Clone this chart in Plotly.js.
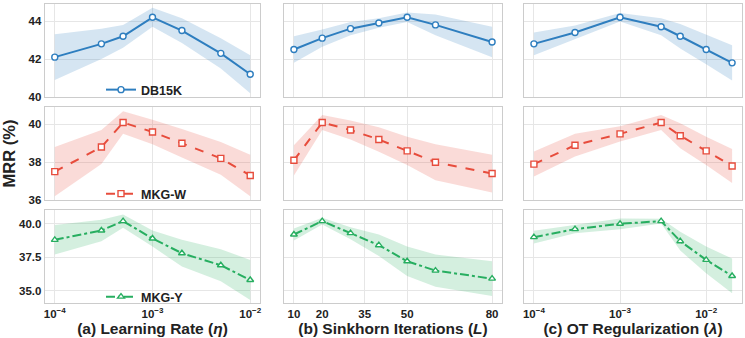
<!DOCTYPE html>
<html>
<head>
<meta charset="utf-8">
<script src="https://cdn.plot.ly/plotly-3.0.1.min.js"></script>
<style>html,body{margin:0;padding:0;background:#fff;}#chart{width:745px;height:338px;}</style>
</head>
<body>
<div id="chart"></div>
<script>
// ---- data ----
const X_LR = [1e-4, 3e-4, 5e-4, 1e-3, 2e-3, 5e-3, 1e-2];
const X_SINK = [10, 20, 30, 40, 50, 60, 80];
const X_OT = [1e-4, 3e-4, 1e-3, 3e-3, 5e-3, 1e-2, 2e-2];

const DB15K_LR = [42.1, 42.8, 43.2, 44.2, 43.5, 42.3, 41.2];
const DB15K_LR_STD = [1.2, 0.8, 0.6, 0.5, 0.65, 0.8, 1.0];
const DB15K_SINK = [42.5, 43.1, 43.6, 43.9, 44.2, 43.8, 42.9];
const DB15K_SINK_STD = [0.7, 0.45, 0.35, 0.25, 0.25, 0.55, 0.8];
const DB15K_OT = [42.8, 43.4, 44.2, 43.7, 43.2, 42.5, 41.8];
const DB15K_OT_STD = [0.6, 0.37, 0.22, 0.45, 0.65, 0.78, 0.93];

const MKGW_LR = [37.5, 38.8, 40.1, 39.6, 39.0, 38.2, 37.3];
const MKGW_LR_STD = [1.3, 0.9, 0.6, 0.65, 0.75, 0.87, 1.1];
const MKGW_SINK = [38.1, 40.1, 39.7, 39.2, 38.6, 38.0, 37.4];
const MKGW_SINK_STD = [0.8, 0.4, 0.5, 0.65, 0.75, 0.95, 1.0];
const MKGW_OT = [37.9, 38.9, 39.5, 40.1, 39.4, 38.6, 37.8];
const MKGW_OT_STD = [0.66, 0.6, 0.4, 0.4, 0.66, 0.75, 0.9];

const MKGY_LR = [38.8, 39.5, 40.2, 38.9, 37.8, 36.9, 35.8];
const MKGY_LR_STD = [1.1, 0.8, 0.5, 0.6, 1.0, 1.2, 1.5];
const MKGY_SINK = [39.2, 40.2, 39.3, 38.4, 37.2, 36.5, 35.9];
const MKGY_SINK_STD = [0.45, 0.25, 0.45, 0.8, 1.1, 1.2, 1.3];
const MKGY_OT = [39.0, 39.6, 40.0, 40.2, 38.7, 37.3, 36.1];
const MKGY_OT_STD = [0.47, 0.3, 0.4, 0.18, 0.7, 1.0, 1.3];

const DATASETS = ['DB15K', 'MKG-W', 'MKG-Y'];
const X_TITLES = ['(a) Learning Rate (<i>η</i>)', '(b) Sinkhorn Iterations (<i>L</i>)', '(c) OT Regularization (<i>λ</i>)'];
const LOG_TICKS = [1e-4, 1e-3, 1e-2];
const LOG_TICKTEXT = ['10<sup>−4</sup>', '10<sup>−3</sup>', '10<sup>−2</sup>'];
const SINK_TICKS = [10, 20, 35, 50, 80];
const Y_TICKS = [[40, 42, 44], [36, 38, 40], [35.0, 37.5, 40.0]];
const Y_TICKTEXT = [['40', '42', '44'], ['36', '38', '40'], ['35.0', '37.5', '40.0']];

// ---- styling ----
const W = 745, H = 338;
const COLORS = ['#2E7EBF', '#E74C3C', '#27AE60'];
const FILLS = ['rgba(46,126,191,0.2)', 'rgba(231,76,60,0.2)', 'rgba(39,174,96,0.2)'];
const DASHES = ['solid', 'dash', 'dashdot'];
const SYMBOLS = ['circle', 'square', 'triangle-up'];
const FONT = 'Liberation Sans, Arial, sans-serif';
const TXT = '#222222';

const colPx = [[45, 260], [284, 502], [524, 742]];
const rowPx = [[4, 97], [107, 200], [210, 303]];
const yRanges = [[40, 44.9], [36, 40.92], [34.08, 41.03]];
const xRanges = [[-4.1, -1.9], [6.5, 83.5], [-4.115, -1.584]];

const series = [
  [[X_LR, DB15K_LR, DB15K_LR_STD], [X_SINK, DB15K_SINK, DB15K_SINK_STD], [X_OT, DB15K_OT, DB15K_OT_STD]],
  [[X_LR, MKGW_LR, MKGW_LR_STD], [X_SINK, MKGW_SINK, MKGW_SINK_STD], [X_OT, MKGW_OT, MKGW_OT_STD]],
  [[X_LR, MKGY_LR, MKGY_LR_STD], [X_SINK, MKGY_SINK, MKGY_SINK_STD], [X_OT, MKGY_OT, MKGY_OT_STD]]
];

const traces = [];
const layout = {
  width: W, height: H,
  margin: {l: 0, r: 0, t: 0, b: 0},
  paper_bgcolor: '#ffffff', plot_bgcolor: '#ffffff',
  font: {family: FONT, color: TXT, size: 11, weight: 'bold'},
  showlegend: true
};

const legendY = [90, 194, 297];
for (let r = 0; r < 3; r++) {
  for (let c = 0; c < 3; c++) {
    const k = r * 3 + c + 1;
    const xa = 'x' + k, ya = 'y' + k;
    const [xs, ys, sd] = series[r][c];
    const up = ys.map((v, i) => v + sd[i]);
    const lo = ys.map((v, i) => v - sd[i]);
    const legendName = r === 0 ? 'legend' : 'legend' + (r + 1);
    traces.push({x: xs, y: up, xaxis: xa, yaxis: ya, mode: 'lines', line: {width: 0, color: FILLS[r]}, showlegend: false, hoverinfo: 'skip'});
    traces.push({x: xs, y: lo, xaxis: xa, yaxis: ya, mode: 'lines', line: {width: 0, color: FILLS[r]}, fill: 'tonexty', fillcolor: FILLS[r], showlegend: false, hoverinfo: 'skip'});
    traces.push({
      x: xs, y: ys, xaxis: xa, yaxis: ya, mode: 'lines+markers', name: DATASETS[r],
      legend: legendName,
      showlegend: c === 0,
      line: {color: COLORS[r], width: 2, dash: DASHES[r]},
      marker: {symbol: SYMBOLS[r], size: 6, color: '#ffffff', line: {color: COLORS[r], width: 1.4}}
    });

    const xaxis = {
      domain: [colPx[c][0] / W, colPx[c][1] / W],
      anchor: ya,
      range: xRanges[c],
      type: c === 1 ? 'linear' : 'log',
      tickvals: c === 1 ? SINK_TICKS : LOG_TICKS,
      ticktext: c === 1 ? SINK_TICKS.map(String) : LOG_TICKTEXT,
      showticklabels: r === 2,
      ticks: '',
      showgrid: true, gridcolor: '#e6e6e6', gridwidth: 1,
      showline: true, mirror: true, linecolor: '#cccccc', linewidth: 1.3,
      zeroline: false,
      tickfont: {family: FONT, size: 11.5, color: TXT, weight: 'bold'}
    };
    if (r === 2) {
      xaxis.title = {text: X_TITLES[c], font: {family: FONT, size: 15.5, color: TXT, weight: 'bold'}, standoff: 4};
    }
    const yaxis = {
      domain: [1 - rowPx[r][1] / H, 1 - rowPx[r][0] / H],
      anchor: xa,
      range: yRanges[r],
      tickvals: Y_TICKS[r],
      ticktext: Y_TICKTEXT[r],
      showticklabels: c === 0,
      ticks: '',
      showgrid: true, gridcolor: '#e6e6e6', gridwidth: 1,
      showline: true, mirror: true, linecolor: '#cccccc', linewidth: 1.3,
      zeroline: false,
      tickfont: {family: FONT, size: 11.5, color: TXT, weight: 'bold'}
    };
    if (r === 1 && c === 0) {
      yaxis.title = {text: 'MRR (%)', font: {family: FONT, size: 16.5, color: TXT, weight: 'bold'}, standoff: 8};
    }
    layout['xaxis' + (k === 1 ? '' : k)] = xaxis;
    layout['yaxis' + (k === 1 ? '' : k)] = yaxis;
  }
  const lg = {
    x: 101 / W, xanchor: 'left',
    y: 1 - legendY[r] / H, yanchor: 'middle',
    bgcolor: 'rgba(0,0,0,0)', borderwidth: 0,
    font: {family: FONT, size: 12.5, color: TXT, weight: 'bold'}
  };
  layout[r === 0 ? 'legend' : 'legend' + (r + 1)] = lg;
}

Plotly.newPlot('chart', traces, layout, {displayModeBar: false, staticPlot: true});
</script>
</body>
</html>
